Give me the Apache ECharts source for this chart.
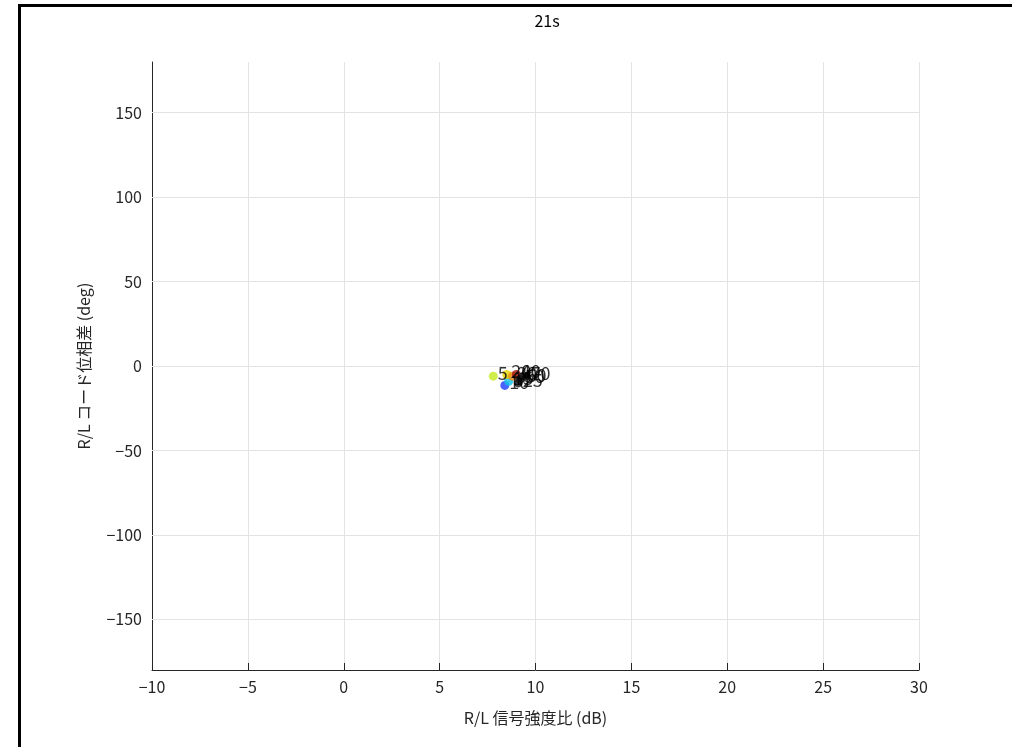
<!DOCTYPE html>
<html>
<head>
<meta charset="utf-8">
<script src="https://cdn.jsdelivr.net/npm/echarts@6/dist/echarts.min.js"></script>
<style>
html,body{margin:0;padding:0;background:#fff;}
#c{width:1012px;height:747px;}
</style>
</head>
<body>
<div id="c"></div>
<script>
const titleText = "21s";
const xName = "R/L 信号強度比 (dB)";
const yName = "R/L コード位相差 (deg)";
const pointLabels = ["5", "10", "15", "20", "25", "30", "40", "50", "60", "70"];
const xVals = [7.8, 8.4, 8.6, 8.5, 9.1, 8.8, 9.0, 9.2, 9.3, 9.5];
const yVals = [-6, -11.5, -9, -5, -10, -6, -5, -8, -7, -6];
const pointColors = ["#c4ea1e", "#1e3cff", "#10c0e8", "#e8d400", "#101010", "#f08c10", "#a01010", "#181818", "#151515", "#202020"];

const font = '"Noto Sans CJK JP", "Noto Sans", sans-serif';
const minusFmt = v => (v < 0 ? '\u2212' + Math.abs(v) : String(v));
const chart = echarts.init(document.getElementById('c'));
const data = pointLabels.map((l, i) => ({
  name: l,
  value: [xVals[i], yVals[i]],
  itemStyle: { color: pointColors[i] }
}));
chart.setOption({
  backgroundColor: '#fff',
  animation: false,
  title: {
    text: titleText, left: 542, top: 8, textAlign: 'center',
    textStyle: { fontFamily: font, fontSize: 16, fontWeight: 'normal', color: '#000' }
  },
  grid: { left: 152, right: 93, top: 62, bottom: 77 },
  xAxis: {
    type: 'value', min: -10, max: 30, interval: 5,
    name: xName, nameLocation: 'middle', nameGap: 40,
    nameTextStyle: { fontFamily: font, fontSize: 16, color: '#262626' },
    axisLine: { onZero: false, lineStyle: { color: '#262626', width: 1 } },
    axisTick: { inside: true, length: 7, lineStyle: { color: '#262626' } },
    axisLabel: { fontFamily: font, fontSize: 16, color: '#262626', margin: 9, formatter: minusFmt },
    splitLine: { show: true, lineStyle: { color: '#e3e3e3', width: 1 } }
  },
  yAxis: {
    type: 'value', min: -180, max: 180, interval: 50,
    axisLine: { onZero: false, lineStyle: { color: '#262626', width: 1 } },
    axisTick: { inside: true, length: 7, lineStyle: { color: '#262626' },
      customValues: [-150, -100, -50, 0, 50, 100, 150] },
    axisLabel: { fontFamily: font, fontSize: 16, color: '#262626', margin: 10,
      customValues: [-150, -100, -50, 0, 50, 100, 150],
      formatter: minusFmt },
    splitLine: { show: false }
  },
  graphic: [
    { type: 'line', shape: { x1: 19.5, y1: 4, x2: 19.5, y2: 747 }, style: { stroke: '#000', lineWidth: 3 } },
    { type: 'line', shape: { x1: 18, y1: 5.5, x2: 1012, y2: 5.5 }, style: { stroke: '#000', lineWidth: 3 } },
    { type: 'text', rotation: Math.PI / 2, x: 84, y: 366,
      style: { text: yName, font: '16px ' + font, fill: '#262626', textAlign: 'center', textVerticalAlign: 'middle' } }
  ],
  series: [
    {
      type: 'line', silent: true, symbol: 'none', data: [],
      markLine: {
        silent: true, symbol: 'none', label: { show: false },
        lineStyle: { color: '#e3e3e3', type: 'solid', width: 1 },
        data: [-150, -100, -50, 0, 50, 100, 150].map(v => ({ yAxis: v }))
      }
    },
    {
      type: 'scatter', symbolSize: 9, data: data,
      label: {
        show: true, position: 'right', distance: 0, offset: [0, -3],
        formatter: p => p.name,
        fontFamily: font, fontSize: 18, color: '#000'
      },
      z: 5
    }
  ]
});
</script>
</body>
</html>
